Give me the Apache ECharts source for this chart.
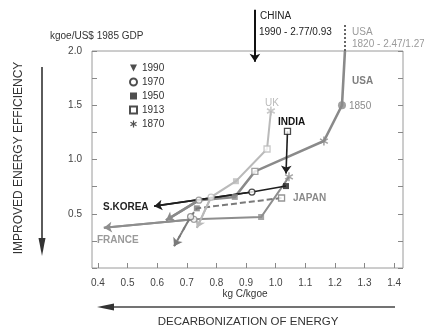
<!DOCTYPE html>
<html><head><meta charset="utf-8">
<script src="https://cdn.jsdelivr.net/npm/echarts@6/dist/echarts.min.js"></script>
<style>html,body{margin:0;padding:0;background:#fff}#c{width:424px;height:330px}</style>
</head><body><div id="c"></div>
<script>
// ---- data (x = kg C/kgoe, y = kgoe/US$ 1985 GDP) ----
const xTicks = [0.4,0.5,0.6,0.7,0.8,0.9,1.0,1.1,1.2,1.3,1.4];
const usaPath    = [[1.234,2.0],[1.224,1.50],[1.163,1.17],[0.93,0.89],[0.862,0.655],[0.741,0.625],[0.63,0.44]];
const usa1820    = [[1.234,2.24],[1.234,2.0]];
const ukPath     = [[0.984,1.447],[0.971,1.097],[0.866,0.80],[0.782,0.654],[0.734,0.37]];
const francePath = [[1.045,0.84],[0.951,0.47],[0.724,0.449],[0.42,0.37]];
const japanPath  = [[1.02,0.645],[0.734,0.55],[0.713,0.473],[0.657,0.20]];
const indiaPath  = [[1.04,1.26],[1.035,0.87]];
const koreaPath  = [[1.035,0.755],[0.92,0.70],[0.59,0.57]];
const chinaPath  = [[0.93,2.38],[0.93,1.90]];
const pts1850 = [[1.224,1.50,'USA']];
const pts1870 = [[1.163,1.17,'USA'],[0.984,1.447,'UK'],[1.045,0.84,'FRANCE']];
const pts1913 = [[0.93,0.89,'USA'],[0.971,1.097,'UK'],[1.02,0.645,'JAPAN'],[1.04,1.26,'INDIA']];
const pts1950 = [[0.862,0.655,'USA'],[0.866,0.80,'UK'],[0.951,0.47,'FRANCE'],[0.734,0.55,'JAPAN'],[1.035,0.755,'S.KOREA']];
const pts1970 = [[0.741,0.625,'USA'],[0.782,0.654,'UK'],[0.724,0.449,'FRANCE'],[0.713,0.473,'JAPAN'],[0.92,0.70,'S.KOREA']];

// ---- styles ----
const FONT = '"Liberation Sans", Arial, sans-serif';
const colorOf = {USA:'#8a8a8a', UK:'#bababa', FRANCE:'#8e8e8e', JAPAN:'#7a7a7a', INDIA:'#1e1e1e', 'S.KOREA':'#1e1e1e'};

function asteriskPath(){
  const L=1, W=0.17; let d='';
  [90,30,-30].forEach(a=>{
    const r=a*Math.PI/180, dx=Math.cos(r), dy=Math.sin(r), nx=-dy, ny=dx;
    const p=[[L*dx+W*nx,L*dy+W*ny],[L*dx-W*nx,L*dy-W*ny],[-L*dx-W*nx,-L*dy-W*ny],[-L*dx+W*nx,-L*dy+W*ny]];
    d+='M'+p.map(q=>q[0].toFixed(3)+' '+q[1].toFixed(3)).join(' L')+' Z ';
  });
  return 'path://'+d;
}
const ASTER = asteriskPath();
const DOWNTRI = 'path://M0 0 L10 0 L5 10 Z';

// a path drawn as a polyline, plus its last segment carrying an arrow head
function pathSeries(path, color, width, dash, arrow, clip){
  const ls = {color:color, width:width, opacity:1, curveness:0, type: dash || 'solid'};
  const out = [];
  if (path.length > 2) out.push({type:'lines', coordinateSystem:'cartesian2d', polyline:true, silent:true, z:2,
    clip: clip !== false, data:[{coords:path}], lineStyle:ls});
  out.push({type:'lines', coordinateSystem:'cartesian2d', polyline:false, silent:true, z:3,
    clip: clip !== false, data:[{coords:path.slice(-2)}], lineStyle:ls,
    symbol: arrow ? ['none','arrow'] : ['none','none'], symbolSize: arrow ? [1,8] : 0});
  return out;
}
function markerSeries(name, pts, symbol, size, open){
  return {
    type:'scatter', name:name, symbol:symbol, symbolSize:size, symbolKeepAspect:true, z:5, silent:true,
    itemStyle: open ? {color:'#fff', borderColor:'#222', borderWidth:1.3} : {color:'#222'},
    data: pts.map(p=>({value:[p[0],p[1]], itemStyle: open ?
      {color:'#fff', borderColor:colorOf[p[2]], borderWidth:1.3} : {color:colorOf[p[2]]}}))
  };
}

const chart = echarts.init(document.getElementById('c'), null, {renderer:'canvas'});
const txt = (x,y,s,o)=>({type:'text', x:x, y:y, silent:true, style:Object.assign({text:s, font:'10px '+FONT, fill:'#333', textVerticalAlign:'middle'}, o||{})});

chart.setOption({
  animation:false,
  textStyle:{fontFamily:FONT},
  grid:{left:92, right:21, top:51, bottom:62, show:true, borderColor:'#9a9a9a', borderWidth:1},
  xAxis:{type:'value', min:0.38, max:1.43,
    axisLine:{show:false}, splitLine:{show:false},
    axisTick:{inside:true, length:5, customValues:xTicks, lineStyle:{color:'#888'}},
    axisLabel:{customValues:xTicks, formatter:v=>v.toFixed(1), fontSize:10, color:'#444', margin:10, fontFamily:FONT}},
  yAxis:[
    {type:'value', min:0, max:2, interval:0.25, position:'left',
      axisLine:{show:false}, splitLine:{show:false},
      axisTick:{inside:true, length:5, lineStyle:{color:'#888'}},
      axisLabel:{fontSize:10, color:'#444', margin:10, fontFamily:FONT,
        formatter:v=>(v>0 && Math.abs(v*2-Math.round(v*2))<1e-6) ? v.toFixed(1) : ''}},
    {type:'value', min:0, max:2, interval:0.25, position:'right',
      axisLine:{show:false}, splitLine:{show:false},
      axisTick:{inside:true, length:5, lineStyle:{color:'#888'}},
      axisLabel:{show:false}}
  ],
  legend:{orient:'vertical', left:129, top:63, itemWidth:7, itemHeight:7, itemGap:4, padding:0,
    data:['1990','1970','1950','1913','1870'],
    textStyle:{fontSize:10, color:'#333', fontFamily:FONT}, selectedMode:false},
  series:[].concat(
    pathSeries(usa1820, '#666', 2, [2,2], false, false),
    pathSeries(usaPath, colorOf.USA, 2.6, null, true),
    pathSeries(ukPath, colorOf.UK, 2, null, true),
    pathSeries(francePath, colorOf.FRANCE, 2, null, true),
    pathSeries(japanPath, colorOf.JAPAN, 2, [6,3], true),
    pathSeries(koreaPath, colorOf['S.KOREA'], 1.6, null, true),
    pathSeries(indiaPath, colorOf.INDIA, 1.6, null, true),
    pathSeries(chinaPath, '#111', 2, null, true, false),
    [
      {type:'scatter', name:'1990', symbol:DOWNTRI, symbolSize:8, itemStyle:{color:'#222'}, data:[]},
      markerSeries('1970', pts1970, 'circle', 6, true),
      markerSeries('1950', pts1950, 'rect', 6, false),
      markerSeries('1913', pts1913, 'rect', 6, true),
      markerSeries('1870', pts1870, ASTER, 9, false),
      markerSeries('1850', pts1850, 'circle', 8, false)
    ]),
  graphic:[
    txt(50,36,'kgoe/US$ 1985 GDP'),
    txt(260,16,'CHINA',{fill:'#222'}),
    txt(259,32,'1990 - 2.77/0.93',{fill:'#222'}),
    txt(352,32,'USA',{fill:'#9a9a9a'}),
    txt(352,44,'1820 - 2.47/1.27',{fill:'#9a9a9a'}),
    txt(352,81,'USA',{fill:'#7e7e7e', font:'bold 10px '+FONT}),
    txt(349,106,'1850',{fill:'#8a8a8a'}),
    txt(265,103,'UK',{fill:'#bbbbbb'}),
    txt(278,122,'INDIA',{fill:'#111', font:'bold 10px '+FONT}),
    txt(293,198,'JAPAN',{fill:'#8a8a8a', font:'bold 10px '+FONT}),
    txt(103,207,'S.KOREA',{fill:'#222', font:'bold 10px '+FONT}),
    txt(97,240,'FRANCE',{fill:'#9a9a9a', font:'bold 10px '+FONT}),
    txt(245,294,'kg C/kgoe',{textAlign:'center'}),
    txt(248,322,'DECARBONIZATION OF ENERGY',{textAlign:'center', font:'11.5px '+FONT, fill:'#333'}),
    {type:'text', x:19, y:158, rotation:Math.PI/2, silent:true,
      style:{text:'IMPROVED ENERGY EFFICIENCY', font:'12px '+FONT, fill:'#333', textAlign:'center', textVerticalAlign:'middle'}},
    {type:'line', silent:true, shape:{x1:42, y1:67, x2:42, y2:242}, style:{stroke:'#333', lineWidth:1.6}},
    {type:'polygon', silent:true, shape:{points:[[38.5,238],[45.5,238],[42,256]]}, style:{fill:'#333'}},
    {type:'line', silent:true, shape:{x1:110, y1:307, x2:395, y2:307}, style:{stroke:'#444', lineWidth:1.6}},
    {type:'polygon', silent:true, shape:{points:[[97,307],[114,303.5],[114,310.5]]}, style:{fill:'#333'}}
  ]
});
</script></body></html>
